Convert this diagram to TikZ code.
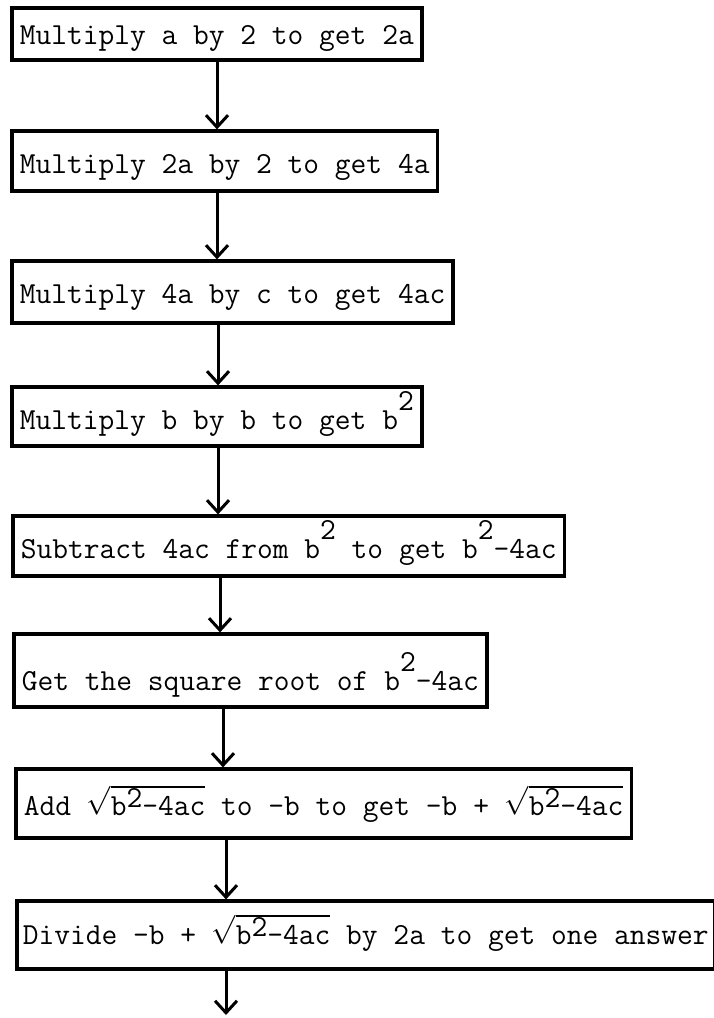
\documentclass[tikz,border=0pt]{standalone}
\usepackage{fontspec}
\usetikzlibrary{arrows.meta, positioning}
\newcommand{\hi}[1]{\raisebox{9.5pt}{#1}}
\newcommand{\lo}[1]{\raisebox{3.8pt}{#1}}
\newcommand{\rootof}[1]{$\sqrt{\mbox{#1}}$}

\begin{document}
\begin{tikzpicture}[
  x=0.5pt, y=-0.5pt,
  font=\ttfamily\fontsize{15.3}{18}\selectfont,
  box/.style={draw, line width=1.8pt, anchor=south west, inner xsep=4pt, inner ysep=0pt,
              text height=21pt, text depth=9pt},
  ar/.style={-{Straight Barb[length=6pt, width=11pt, line width=1.5pt]}, line width=1.5pt}
]
  \useasboundingbox (0,0) rectangle (713,1018);

  % one step per box, top to bottom
  \node[box, text height=18pt, text depth=8pt] (twoa)  at (10,62)  {Multiply a by 2 to get 2a};
  \node[box] (foura)  at (10,193) {Multiply 2a by 2 to get 4a};
  \node[box, text depth=10pt] (fourac) at (10,325) {Multiply 4a by c to get 4ac};
  \node[box, text depth=8.5pt] (bsq)    at (10,448) {Multiply b by b to get b\hi{2}};
  \node[box] (disc)   at (11,578) {Subtract 4ac from b\hi{2} to get b\hi{2}-4ac};
  \node[box, text height=28pt, text depth=8.5pt] (root) at (12,709) {Get the square root of b\hi{2}-4ac};
  \node[box, text height=23pt, text depth=11.5pt] (num) at (14,840)
      {Add \rootof{b\lo{2}-4ac} to -b to get -b + \rootof{b\lo{2}-4ac}};
  \node[box, inner xsep=3pt, text height=21.5pt, text depth=12.5pt] (ans) at (15,971)
      {Divide -b + \rootof{b\lo{2}-4ac} by 2a to get one answer};
  \coordinate (more) at (226,1015);

  % arrows down the left third of each box
  \draw[ar] ([xshift=103.5pt]twoa.south west)  -- ([xshift=103.5pt]twoa.south west |- foura.north);
  \draw[ar] ([xshift=103.5pt]foura.south west) -- ([xshift=103.5pt]foura.south west |- fourac.north);
  \draw[ar] ([xshift=104pt]fourac.south west)  -- ([xshift=104pt]fourac.south west |- bsq.north);
  \draw[ar] ([xshift=104pt]bsq.south west)     -- ([xshift=104pt]bsq.south west |- disc.north);
  \draw[ar] ([xshift=104.5pt]disc.south west)  -- ([xshift=104.5pt]disc.south west |- root.north);
  \draw[ar] ([xshift=105.5pt]root.south west)  -- ([xshift=105.5pt]root.south west |- num.north);
  \draw[ar] ([xshift=106pt]num.south west)     -- ([xshift=106pt]num.south west |- ans.north);
  \draw[ar] ([xshift=105.5pt]ans.south west)   -- (ans.south west -| more) -- (more);
\end{tikzpicture}
\end{document}
